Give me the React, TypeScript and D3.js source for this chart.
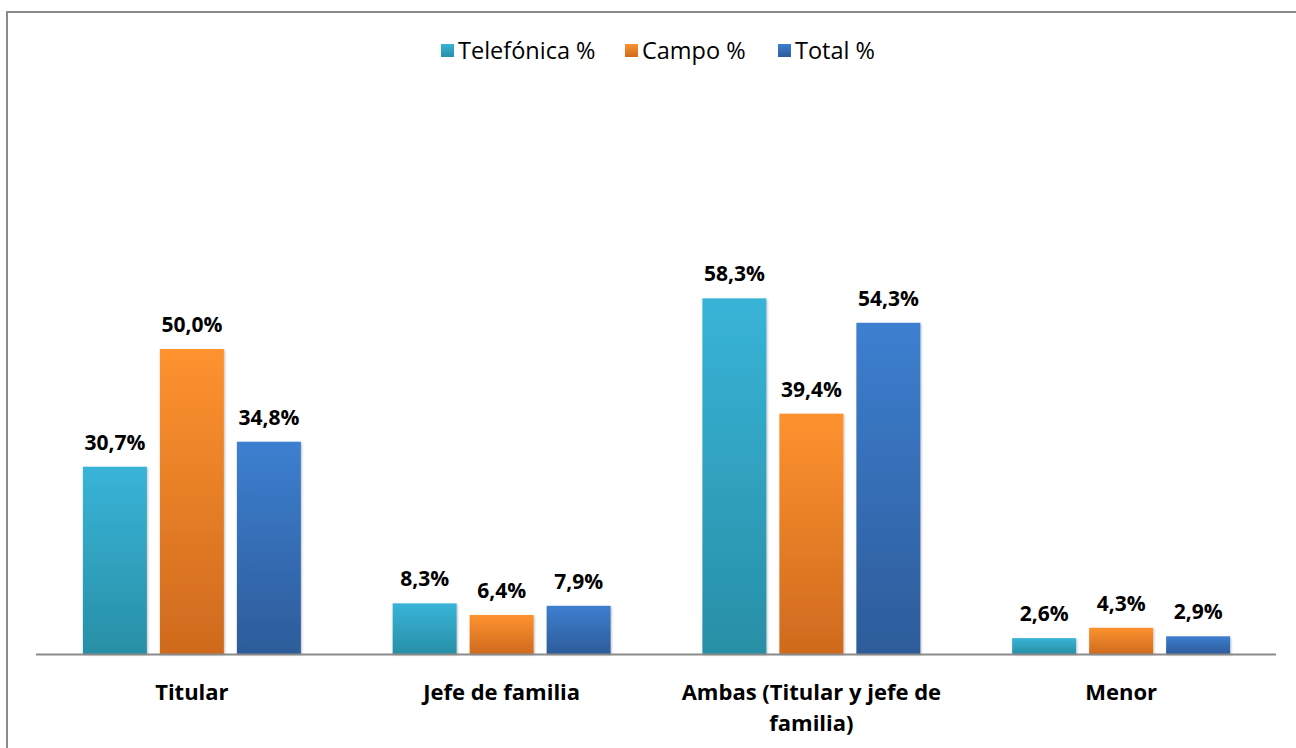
import React from 'react'
import * as d3 from 'd3'

const categories = ['Titular', 'Jefe de familia', 'Ambas (Titular y jefe de familia)', 'Menor']
const categoryLines = [['Titular'], ['Jefe de familia'], ['Ambas (Titular y jefe de', 'familia)'], ['Menor']]
const seriesNames = ['Telefónica %', 'Campo %', 'Total %']
const telefonica = [30.7, 8.3, 58.3, 2.6]
const campo = [50.0, 6.4, 39.4, 4.3]
const total = [34.8, 7.9, 54.3, 2.9]

const seriesValues = [telefonica, campo, total]
const colors = [
  { top: '#38b4d8', bottom: '#288fa6' },
  { top: '#fd922f', bottom: '#cf6a1e' },
  { top: '#3d7fd0', bottom: '#2d5c9a' },
]

const width = 1296
const height = 748
const font = '"Open Sans", Lato, sans-serif'

const App = () => {
  const x0 = d3.scaleBand<string>().domain(categories).range([37, 1276]).padding(0)
  const x1 = d3
    .scaleBand<string>()
    .domain(seriesNames)
    .range([0, x0.bandwidth()])
    .paddingInner(0.169)
    .paddingOuter(0.596)
  const y = d3.scaleLinear().domain([0, 70]).range([654, 227])

  const fmt = (v: number) => v.toFixed(1).replace('.', ',') + '%'

  const legendX = [441, 625, 778]

  return (
    <svg
      width={width}
      height={height}
      style={{ position: 'absolute', left: 0, top: 0, background: '#fff' }}
      fontFamily={font}
    >
      <defs>
        {colors.map((c, i) => (
          <linearGradient key={i} id={`grad${i}`} x1="0" y1="0" x2="0" y2="1">
            <stop offset="0%" stopColor={c.top} />
            <stop offset="100%" stopColor={c.bottom} />
          </linearGradient>
        ))}
        <filter id="shadow" x="-20%" y="-20%" width="140%" height="140%">
          <feDropShadow dx="1" dy="1" stdDeviation="1.2" floodColor="#000" floodOpacity="0.25" />
        </filter>
      </defs>
      <rect x={7} y={12} width={width} height={height} fill="#fff" stroke="#8a8a8a" strokeWidth={2} />

      {/* legend */}
      {seriesNames.map((s, i) => (
        <g key={s} transform={`translate(${legendX[i]},0)`}>
          <rect x={0} y={44} width={13} height={13} fill={`url(#grad${i})`} />
          <text x={17} y={59} fontSize={23.5} fill="#000">
            {s}
          </text>
        </g>
      ))}

      {/* bars */}
      {categories.map((cat, ci) => (
        <g key={cat} transform={`translate(${x0(cat)},0)`}>
          {seriesNames.map((s, si) => {
            const v = seriesValues[si][ci]
            const bx = x1(s) as number
            return (
              <g key={s}>
                <rect
                  x={bx}
                  y={y(v)}
                  width={x1.bandwidth()}
                  height={y(0) - y(v)}
                  fill={`url(#grad${si})`}
                  filter="url(#shadow)"
                />
                <text
                  x={bx + x1.bandwidth() / 2}
                  y={y(v) - 17}
                  textAnchor="middle"
                  fontSize={21}
                  fontWeight="bold"
                  fill="#000"
                >
                  {fmt(v)}
                </text>
              </g>
            )
          })}
        </g>
      ))}

      {/* axis */}
      <line x1={36} x2={1276} y1={654.5} y2={654.5} stroke="#8a8a8a" strokeWidth={2} />

      {/* category labels */}
      {categories.map((cat, ci) => (
        <text
          key={cat}
          x={(x0(cat) as number) + x0.bandwidth() / 2}
          y={700}
          textAnchor="middle"
          fontSize={22}
          fontWeight="bold"
          fill="#000"
        >
          {categoryLines[ci].map((line, li) => (
            <tspan key={li} x={(x0(cat) as number) + x0.bandwidth() / 2} dy={li === 0 ? 0 : 31}>
              {line}
            </tspan>
          ))}
        </text>
      ))}
    </svg>
  )
}

export default App
